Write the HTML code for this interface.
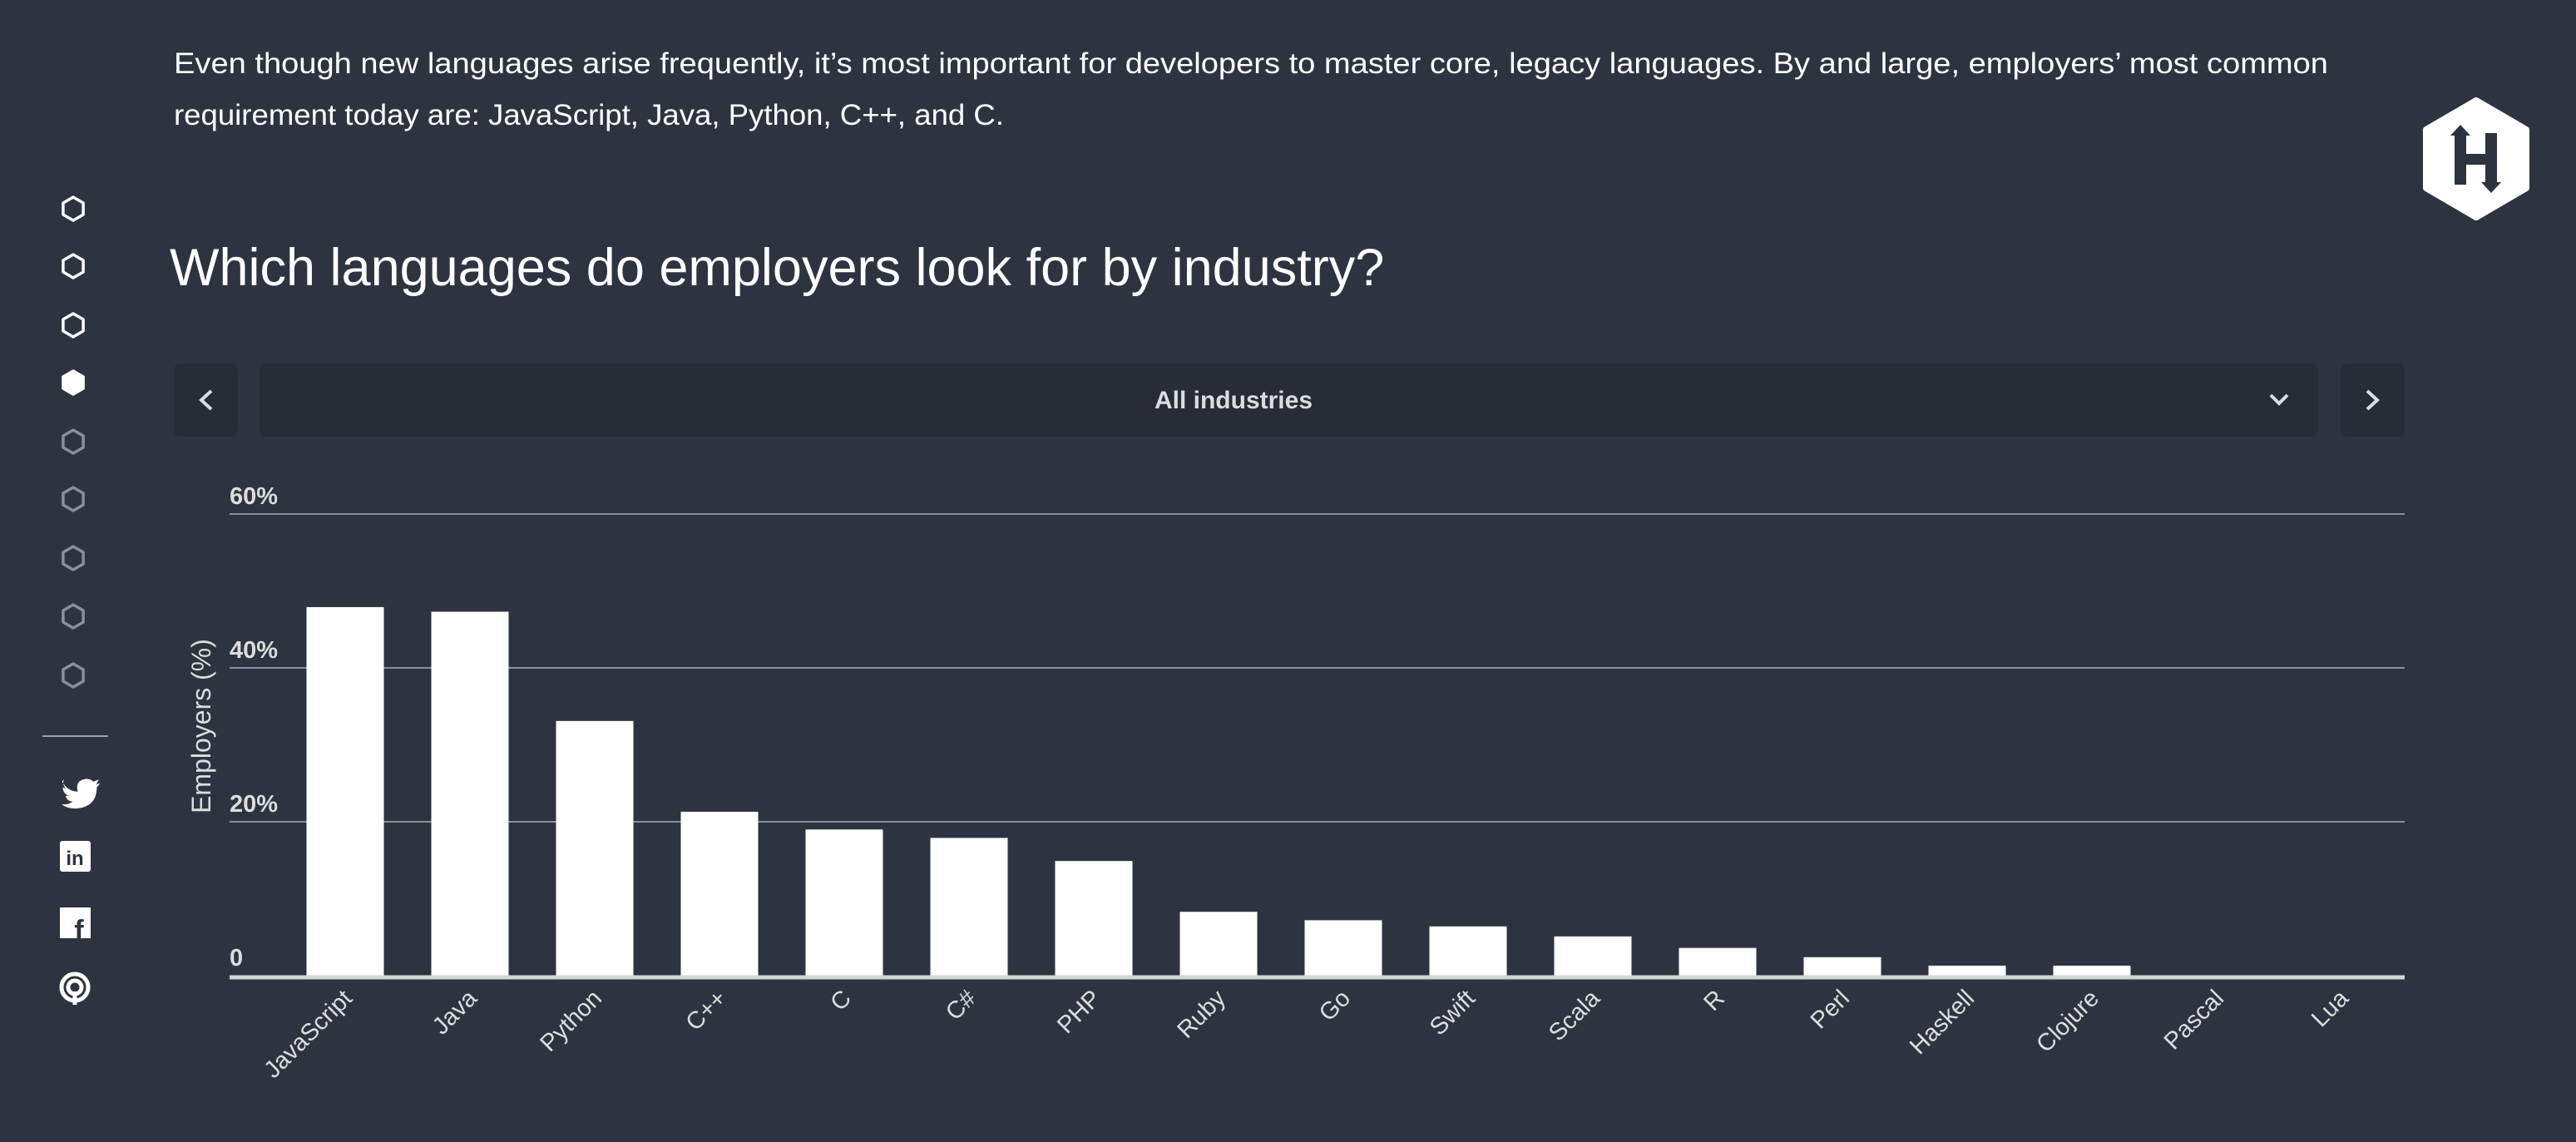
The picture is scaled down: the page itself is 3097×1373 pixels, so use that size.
<!DOCTYPE html>
<html><head><meta charset="utf-8">
<style>
html,body{margin:0;padding:0;background:#2e343f;width:3097px;height:1373px;overflow:hidden;font-family:"Liberation Sans",sans-serif;}
svg{display:block}
</style></head>
<body>
<svg id="root" width="3097" height="1373" viewBox="0 0 3097 1373" xmlns="http://www.w3.org/2000/svg">
<rect width="3097" height="1373" fill="#2e343f"/>
<g fill="#ffffff" font-size="35">
<text x="209" y="88" textLength="2590" lengthAdjust="spacingAndGlyphs">Even though new languages arise frequently, it’s most important for developers to master core, legacy languages. By and large, employers’ most common</text>
<text x="209" y="150" textLength="998" lengthAdjust="spacingAndGlyphs">requirement today are: JavaScript, Java, Python, C++, and C.</text>
</g>
<text x="204" y="343" fill="#ffffff" font-size="63">Which languages do employers look for by industry?</text>
<g>
<rect x="209" y="437" width="77" height="88" rx="8" fill="#272c36"/>
<path d="M254 470 L242 481 L254 492" stroke="#ddd" stroke-width="4" fill="none"/>
</g>
<g>
<rect x="312" y="437" width="2475" height="88" rx="8" fill="#272c36"/>
<text x="1483" y="491" text-anchor="middle" fill="#dddddd" font-size="30" font-weight="bold">All industries</text>
<path d="M2730 475 L2740 485 L2750 475" stroke="#ddd" stroke-width="4" fill="none"/>
</g>
<g>
<rect x="2814" y="437" width="77" height="88" rx="8" fill="#272c36"/>
<path d="M2846 470 L2858 481 L2846 492" stroke="#ddd" stroke-width="4" fill="none"/>
</g>
<g>
<polygon points="2977,121 3037,156 3037,226 2977,261 2917,226 2917,156" fill="#fff" stroke="#fff" stroke-width="8" stroke-linejoin="round"/>
<rect x="2951" y="160" width="14" height="62" fill="#2e343f"/>
<rect x="2988" y="160" width="14" height="62" fill="#2e343f"/>
<rect x="2951" y="185" width="50" height="13" fill="#2e343f"/>
<polygon points="2958,150 2946,163 2970,163" fill="#2e343f"/>
<polygon points="2995,232 2983,219 3007,219" fill="#2e343f"/>
</g>
<g id="sidebar"></g>
<line x1="51" y1="885" x2="130" y2="885" stroke="#9aa5ad" stroke-width="2"/>
<g transform="translate(90,950) scale(0.85) translate(-90,-950)"><path d="M72 938 q8 14 22 14 q-4 -16 12 -18 q6 0 10 4 l8 -3 l-4 7 l6 -2 l-5 6 q0 28 -30 30 q-12 0 -20 -6 q10 1 16 -4 q-8 0 -10 -8 l5 0 q-9 -3 -9 -12 l5 2 q-7 -6 -3 -14z" fill="#fff"/></g>
<g><rect x="72" y="1011" width="37" height="37" rx="3" fill="#fff"/><text x="90" y="1040" text-anchor="middle" font-size="24" font-weight="bold" fill="#2e343f">in</text></g>
<g><rect x="72" y="1091" width="37" height="37" fill="#fff"/><text x="95" y="1130" text-anchor="middle" font-size="34" font-weight="bold" fill="#2e343f">f</text></g>
<g fill="none" stroke="#fff" stroke-width="5"><circle cx="90" cy="1187" r="16"/><circle cx="90" cy="1187" r="8"/><line x1="90" y1="1192" x2="90" y2="1208"/></g>
<g id="chart"></g>
</svg>
<script>
const categories = ["JavaScript","Java","Python","C++","C","C#","PHP","Ruby","Go","Swift","Scala","R","Perl","Haskell","Clojure","Pascal","Lua"];
const values = [47.9,47.3,33.1,21.3,19.0,17.9,14.9,8.3,7.2,6.4,5.1,3.6,2.4,1.3,1.3,0,0];
const tickValues = [0,20,40,60];
const tickLabels = ["0","20%","40%","60%"];

const NS = "http://www.w3.org/2000/svg";
function mk(tag, attrs, parent){const e=document.createElementNS(NS,tag);for(const k in attrs)e.setAttribute(k,attrs[k]);parent.appendChild(e);return e;}

const sb = document.getElementById('sidebar');
const hexY = [251,320,391,460,531,600,671,741,812];
hexY.forEach((cy,i)=>{
  const r=14, pts=[];
  for(let a=0;a<6;a++){const t=Math.PI/3*a-Math.PI/2;pts.push((88+r*Math.cos(t)).toFixed(1)+','+(cy+r*Math.sin(t)).toFixed(1));}
  const p = mk('polygon',{points:pts.join(' '),fill:i===3?'#fff':'none',stroke:i<4?'#fff':'#8a9098','stroke-width':3.5,'stroke-linejoin':'round'},sb);
  
  
});

const g = document.getElementById('chart');
const x0=276, x1=2891, yBase=1173, pxPer20=185;
const firstCenter=415, pitch=150, barW=93;
function yScale(v){return yBase - v/20*pxPer20;}
function xCenter(i){return firstCenter + i*pitch;}

tickValues.forEach((v,i)=>{
  const y=yScale(v);
  if(v>0){
    const l=mk('line',{x1:x0,x2:x1,y1:y,y2:y,stroke:'#8a8f96','stroke-width':2},g);
    
    
  }
  const t=mk('text',{x:x0,y:y-12,fill:'#dddddd','font-size':29,'font-weight':'bold'},g);
  t.textContent=tickLabels[i];
  
  
});

const yt=mk('text',{x:0,y:0,fill:'#dddddd','font-size':32,'text-anchor':'middle',transform:'translate(253,873) rotate(-90)'},g);
yt.textContent='Employers (%)';



values.forEach((v,i)=>{
  const y=yScale(v);
  const r=mk('rect',{x:xCenter(i)-barW/2,y:y,width:barW,height:yBase-y,fill:'#ffffff'},g);
  
  
  const t=mk('text',{x:0,y:0,fill:'#dddddd','font-size':29,'text-anchor':'end',transform:'translate('+(xCenter(i)+10)+',1202) rotate(-45)'},g);
  t.textContent=categories[i];
  
  
});

const ax=mk('line',{x1:x0,x2:x1,y1:yBase+2,y2:yBase+2,stroke:'#d4d4d4','stroke-width':5},g);


</script>
</body></html>
